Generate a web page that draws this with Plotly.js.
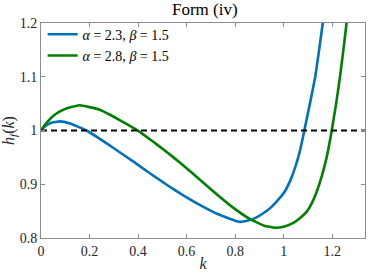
<!DOCTYPE html>
<html><head><meta charset="utf-8">
<script src="https://cdn.plot.ly/plotly-3.0.1.min.js"></script>
<style>html,body{margin:0;padding:0;background:#fff}#c{width:369px;height:273px}</style>
</head><body><div id="c"></div>
<script>
var kBlue = [0, 0.01, 0.02, 0.04, 0.078, 0.12, 0.188, 0.244, 0.30, 0.381, 0.45, 0.518, 0.573, 0.656, 0.725, 0.807, 0.82, 0.85, 0.882, 0.916, 0.95, 0.985, 1.005, 1.03, 1.05, 1.068, 1.085, 1.108, 1.13, 1.146, 1.161, 1.168];
var hBlue = [1.0, 1.005, 1.009, 1.014, 1.017, 1.013, 1.0, 0.984, 0.967, 0.942, 0.920, 0.899, 0.883, 0.861, 0.845, 0.831, 0.830, 0.832, 0.837, 0.846, 0.858, 0.875, 0.887, 0.910, 0.935, 0.964, 1.0, 1.05, 1.10, 1.15, 1.2, 1.225];
var kGreen = [0, 0.01, 0.03, 0.05, 0.08, 0.11, 0.16, 0.24, 0.326, 0.402, 0.46, 0.518, 0.573, 0.656, 0.725, 0.793, 0.862, 0.92, 0.964, 1.0, 1.04, 1.07, 1.095, 1.115, 1.136, 1.157, 1.177, 1.198, 1.216, 1.232, 1.246, 1.259, 1.265];
var hGreen = [1.0, 1.007, 1.018, 1.027, 1.036, 1.042, 1.047, 1.039, 1.019, 0.999, 0.980, 0.960, 0.940, 0.908, 0.881, 0.856, 0.835, 0.823, 0.819, 0.821, 0.828, 0.838, 0.849, 0.864, 0.886, 0.915, 0.950, 1.0, 1.05, 1.10, 1.15, 1.2, 1.225];
var refK = [0, 1.335];
var refH = [1, 1];
var xTicks = [0, 0.2, 0.4, 0.6, 0.8, 1, 1.2];
var xTickText = ["0", "0.2", "0.4", "0.6", "0.8", "1", "1.2"];
var yTicks = [0.8, 0.9, 1, 1.1, 1.2];
var yTickText = ["0.8", "0.9", "1", "1.1", "1.2"];
var names = ["<i>α</i> = 2.3, <i>β</i> = 1.5", "<i>α</i> = 2.8, <i>β</i> = 1.5"];

var F = "Liberation Serif, DejaVu Serif, serif";
var traces = [
  {x: kBlue, y: hBlue, mode: "lines", name: names[0], line: {color: "#0072BD", width: 2.6, shape: "spline", smoothing: 0.3}},
  {x: kGreen, y: hGreen, mode: "lines", name: names[1], line: {color: "#008000", width: 2.6, shape: "spline", smoothing: 0.3}},
  {x: refK, y: refH, mode: "lines", showlegend: false, line: {color: "#000000", width: 2, dash: "6px,4px"}}
];
var axisCommon = {showgrid: false, zeroline: false, showline: true, linecolor: "#8c8c8c", linewidth: 1,
  mirror: "ticks", ticks: "inside", ticklen: 4, tickcolor: "#8c8c8c", tickfont: {family: F, size: 14, color: "#262626"}};
var layout = {
  width: 369, height: 273,
  margin: {l: 41, r: 4, t: 23, b: 35},
  paper_bgcolor: "#fff", plot_bgcolor: "#fff",
  font: {family: F, color: "#262626"},
  title: {text: "Form (iv)", font: {family: F, size: 17, color: "#000"}, x: 0.555, xanchor: "center", y: 1, yanchor: "top", pad: {t: 3}},
  xaxis: Object.assign({}, axisCommon, {range: [0, 1.335], tickvals: xTicks, ticktext: xTickText,
    title: {text: "<i>k</i>", font: {family: F, size: 16, color: "#262626"}, standoff: 0}}),
  yaxis: Object.assign({}, axisCommon, {range: [0.8, 1.2], tickvals: yTicks, ticktext: yTickText,
    title: {text: "<i>h<sub>f</sub></i>(<i>k</i>)", font: {family: F, size: 16, color: "#262626"}, standoff: 4}}),
  legend: {x: 0.005, y: 1.02, xanchor: "left", yanchor: "top", bgcolor: "rgba(255,255,255,0)",
    font: {family: F, size: 14, color: "#000"}, itemwidth: 30, tracegroupgap: 0},
  showlegend: true
};
Plotly.newPlot("c", traces, layout, {displayModeBar: false, staticPlot: true});
</script></body></html>
